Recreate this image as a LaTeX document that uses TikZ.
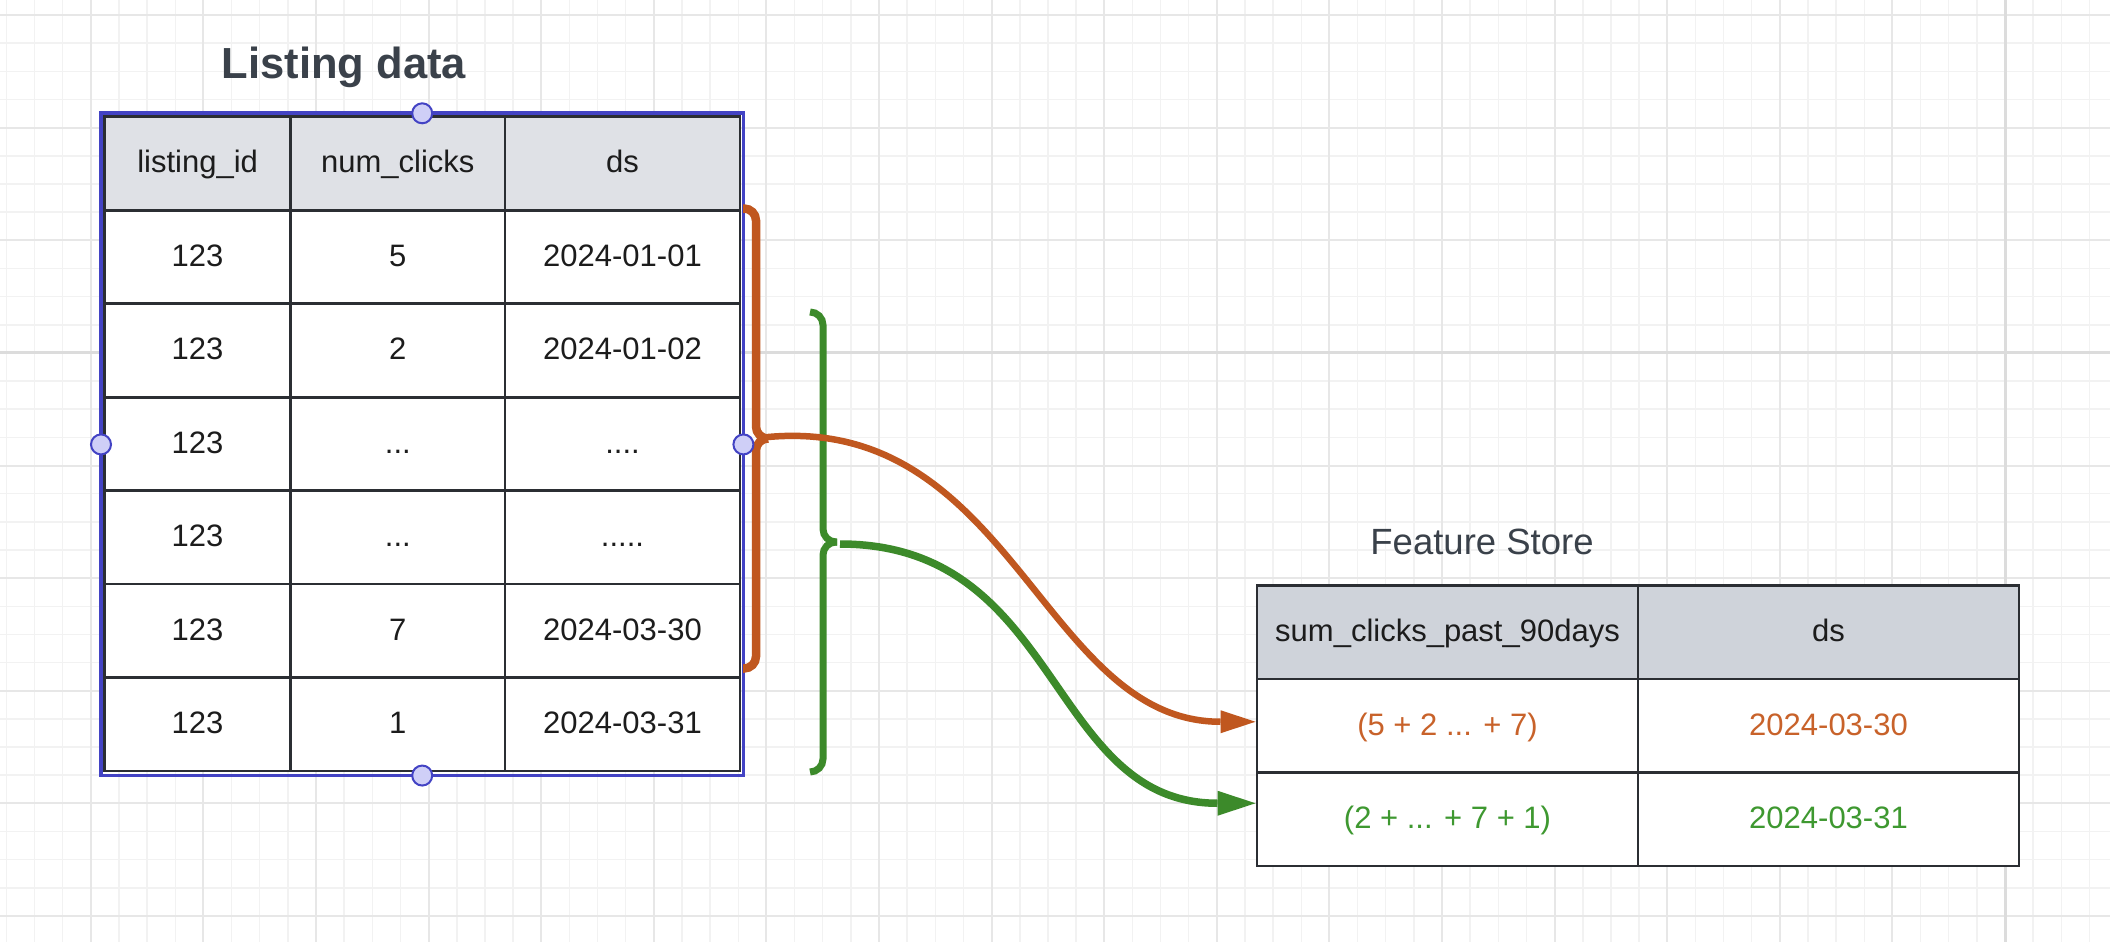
\documentclass[tikz,border=0pt]{standalone}
\usepackage{fontspec}
\setmainfont{Liberation Sans}
\usetikzlibrary{arrows.meta,calc}

\definecolor{gridminor}{HTML}{F2F2F2}
\definecolor{gridmajor}{HTML}{E7E7E7}
\definecolor{gridaxis}{HTML}{DCDCDC}
\definecolor{tableline}{HTML}{2B2E33}
\definecolor{celltext}{HTML}{1C1C1C}
\definecolor{headfillL}{HTML}{DFE1E6}
\definecolor{headfillF}{HTML}{CFD3DA}
\definecolor{titlegray}{HTML}{3A414A}
\definecolor{selblue}{HTML}{4343C4}
\definecolor{handlefill}{HTML}{CFCFF7}
\definecolor{rustorange}{HTML}{C0571F}
\definecolor{leafgreen}{HTML}{3C8A2A}
\definecolor{rusttext}{HTML}{C8622A}
\definecolor{greentext}{HTML}{3E9830}

\begin{document}
\begin{tikzpicture}[x=1pt,y=-1pt,
  cell/.style={draw=tableline, line width=2.8pt, fill=white, inner sep=0pt,
    outer sep=0pt, text=celltext, font=\fontsize{31}{36}\selectfont,
    text height=22.5pt, text depth=4pt, minimum height=93.47pt},
  fcell/.style={cell, minimum width=381pt, minimum height=93.5pt},
  headL/.style={fill=headfillL},
  headF/.style={fill=headfillF},
  handle/.style={circle, minimum size=20pt, inner sep=0pt, fill=handlefill,
    draw=selblue, line width=2pt},
  title/.style={anchor=base, text=titlegray, inner sep=0pt},
  minorline/.style={draw=gridminor, line width=1.5pt},
  majorline/.style={draw=gridmajor, line width=2pt},
  axisline/.style={draw=gridaxis, line width=3pt},
  bracepath/.style={line width=#1, line cap=butt},
]
\useasboundingbox (0,0) rectangle (2110,942);
\fill[white] (0,0) rectangle (2110,942);

% background grid
\foreach \i in {0,...,74}
  \draw[minorline] ({6.35+28.15*\i},0) -- ({6.35+28.15*\i},942);
\foreach \i in {0,...,32}
  \draw[minorline] (0,{15.1+28.15*\i}) -- (2110,{15.1+28.15*\i});
\foreach \i in {0,...,17}
  \draw[majorline] ({90.8+112.6*\i},0) -- ({90.8+112.6*\i},942);
\foreach \i in {0,...,8}
  \draw[majorline] (0,{15.1+112.6*\i}) -- (2110,{15.1+112.6*\i});
\draw[axisline] (2005,0) -- (2005,942);
\draw[axisline] (0,352.9) -- (2110,352.9);

% listing table
\node[cell,headL,minimum width=186.2pt] (L0a) at (197.6,163.44) {listing\_id};
\node[cell,headL,minimum width=214.3pt] (L0b) at (397.85,163.44) {num\_clicks};
\node[cell,headL,minimum width=235pt] (L0c) at (622.5,163.44) {ds};

\node[cell,minimum width=186.2pt] (L1a) at (197.6,256.9) {123};
\node[cell,minimum width=214.3pt] (L1b) at (397.85,256.9) {5};
\node[cell,minimum width=235pt] (L1c) at (622.5,256.9) {2024-01-01};

\node[cell,minimum width=186.2pt] (L2a) at (197.6,350.4) {123};
\node[cell,minimum width=214.3pt] (L2b) at (397.85,350.4) {2};
\node[cell,minimum width=235pt] (L2c) at (622.5,350.4) {2024-01-02};

\node[cell,minimum width=186.2pt] (L3a) at (197.6,443.9) {123};
\node[cell,minimum width=214.3pt] (L3b) at (397.85,443.9) {...};
\node[cell,minimum width=235pt] (L3c) at (622.5,443.9) {....};

\node[cell,minimum width=186.2pt] (L4a) at (197.6,537.3) {123};
\node[cell,minimum width=214.3pt] (L4b) at (397.85,537.3) {...};
\node[cell,minimum width=235pt] (L4c) at (622.5,537.3) {.....};

\node[cell,minimum width=186.2pt] (L5a) at (197.6,630.8) {123};
\node[cell,minimum width=214.3pt] (L5b) at (397.85,630.8) {7};
\node[cell,minimum width=235pt] (L5c) at (622.5,630.8) {2024-03-30};

\node[cell,minimum width=186.2pt] (L6a) at (197.6,724.3) {123};
\node[cell,minimum width=214.3pt] (L6b) at (397.85,724.3) {1};
\node[cell,minimum width=235pt] (L6c) at (622.5,724.3) {2024-03-31};

% feature store table
\node[fcell,headF] (F0a) at (1447.5,632.25) {sum\_clicks\_past\_90days};
\node[fcell,headF] (F0b) at (1828.5,632.25) {ds};
\node[fcell,text=rusttext] (F1a) at (1447.5,725.75) {(5 + 2 ... + 7)};
\node[fcell,text=rusttext] (F1b) at (1828.5,725.75) {2024-03-30};
\node[fcell,text=greentext] (F2a) at (1447.5,819.25) {(2 + ... + 7 + 1)};
\node[fcell,text=greentext] (F2b) at (1828.5,819.25) {2024-03-31};

% titles
\node[title, font=\fontsize{43.5}{50}\selectfont\bfseries] (ltitle) at (344,78.3) {Listing data};
\node[title, font=\fontsize{36.5}{42}\selectfont] (ftitle) at (1482,554) {Feature Store};

% selection frame around the listing table
\coordinate (selNW) at ($(L0a.north west)+(-3.5,-3.4)$);
\coordinate (selSE) at ($(L6c.south east)+(3.4,4.5)$);
\draw[selblue, line width=3.8pt] (selNW) rectangle (selSE);

% green brace: rows 2024-01-02 .. 2024-03-31
\coordinate (gtip) at (837,542);
\draw[leafgreen, bracepath=7pt, rounded corners=13pt]
  (810,312) -- (823,312) -- (823,542) -- (gtip);
\draw[leafgreen, bracepath=7pt, rounded corners=13pt]
  (gtip) -- (823,542) -- (823,772) -- (810,772);

% orange brace: rows 2024-01-01 .. 2024-03-30
\coordinate (otip) at (768,438.5);
\draw[rustorange, bracepath=8.5pt, rounded corners=12pt]
  (743,208.5) -- (756,208.5) -- (756,438.5) -- (otip);
\draw[rustorange, bracepath=8.5pt, rounded corners=12pt]
  (otip) -- (756,438.5) -- (756,668.5) -- (743,668.5);

% aggregation connectors
\coordinate (oin) at ($(F1a.west)+(-1.5,-4)$);
\coordinate (gin) at ($(F2a.west)+(-1.5,-16)$);
\draw[leafgreen, line width=7.5pt, -{Triangle[length=38pt,width=25pt,line width=0pt]}]
  ($(gtip)+(3,2)$) .. controls +(222,0) and +(-208,0) .. (gin);
\draw[rustorange, line width=6.5pt, -{Triangle[length=35pt,width=23pt,line width=0pt]}]
  ($(otip)+(0,-1.5)$) .. controls +(244,-22) and +(-212,0) .. (oin);

% selection handles
\node[handle] (hT) at ($(selNW)!0.5!(selNW -| selSE)$) {};
\node[handle] (hB) at ($(selSE)!0.5!(selSE -| selNW)$) {};
\node[handle] (hL) at ($(selNW)!0.5!(selNW |- selSE)$) {};
\node[handle] (hR) at ($(selSE)!0.5!(selSE |- selNW)$) {};
\end{tikzpicture}
\end{document}
